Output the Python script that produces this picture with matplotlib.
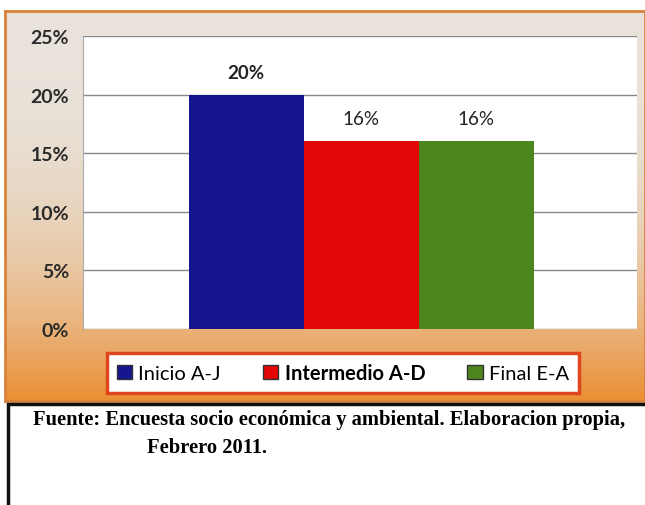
import numpy as np
import matplotlib
matplotlib.use("Agg")
import matplotlib.pyplot as plt
from matplotlib.patches import Rectangle, Patch

# data
series = ["Inicio A-J", "Intermedio A-D", "Final E-A"]
valores = [20, 16, 16]
etiquetas = ["20%", "16%", "16%"]
colores = ["#15158f", "#e30606", "#4c861d"]
yticks = [0, 5, 10, 15, 20, 25]
fuente_1 = "Fuente: Encuesta socio económica y ambiental. Elaboracion propia,"
fuente_2 = "Febrero 2011."

plt.rcParams["font.family"] = ["Lato", "DejaVu Sans"]

fig = plt.figure(figsize=(6.45, 5.06), dpi=100)
W, H = 645.0, 506.0

# chart background (orange gradient area)
bg = fig.add_axes([5 / W, 1 - 402 / H, 640 / W, 390 / H])
grad = np.linspace(0, 1, 200)[:, None] ** 2.6
top = np.array([0.91, 0.89, 0.86])
bot = np.array([0.92, 0.56, 0.20])
img = top[None, None, :] * (1 - grad[..., None]) + bot[None, None, :] * grad[..., None]
bg.imshow(img[::-1], aspect="auto", extent=[0, 1, 0, 1], origin="lower")
bg.set_xlim(0, 1)
bg.set_ylim(0, 1)
for s in bg.spines.values():
    s.set_edgecolor("#d9823a")
    s.set_linewidth(2)
bg.set_xticks([])
bg.set_yticks([])

# plot area
ax = fig.add_axes([83 / W, 1 - 330 / H, 554 / W, 293 / H])
ax.set_facecolor("white")
x = [-1, 0, 1]
ax.bar(x, valores, width=1.0, color=colores, zorder=3)
for xi, v, lab, i in zip(x, valores, etiquetas, range(3)):
    ax.text(xi, v + 1.2, lab, ha="center", va="bottom", fontsize=13.5,
            fontweight="bold" if i == 0 else "normal", color="#222222")
ax.set_xlim(-2.42, 2.40)
ax.set_ylim(0, 25)
ax.set_yticks(yticks)
ax.set_yticklabels([f"{t}%" for t in yticks], fontsize=14, fontweight="bold", color="#2a2a2a")
ax.set_xticks([])
ax.grid(axis="y", color="#888888", linewidth=1, zorder=0)
ax.tick_params(axis="y", length=0, pad=10)
for s in ["top", "right", "bottom"]:
    ax.spines[s].set_visible(False)
ax.spines["left"].set_color("#aaaaaa")

# legend
handles = [Patch(facecolor=c, edgecolor="#333333") for c in colores]
leg = fig.legend(handles, series, loc="center", bbox_to_anchor=(343 / W, 1 - 374 / H),
                 ncol=3, fontsize=14.5, frameon=True, fancybox=False,
                 handlelength=0.75, handleheight=0.75, handletextpad=0.3,
                 columnspacing=2.1, borderpad=0.5, borderaxespad=0)
leg.get_frame().set_edgecolor("#e0461e")
leg.get_frame().set_linewidth(2.5)
leg.get_frame().set_facecolor("white")
leg.get_frame().set_alpha(1)
leg.get_texts()[1].set_fontweight("bold")

# source box
fig.patches.append(Rectangle((8 / W, -0.01), 640 / W, 101 / H + 0.01, transform=fig.transFigure,
                             facecolor="white", edgecolor="#111111", linewidth=2.5))
fig.text(33 / W, 1 - 420 / H, fuente_1, fontsize=14.8, fontweight="bold",
         family="Liberation Serif", va="center")
fig.text(147 / W, 1 - 448 / H, fuente_2, fontsize=14.8, fontweight="bold",
         family="Liberation Serif", va="center")

fig.savefig("out.png", dpi=100)
